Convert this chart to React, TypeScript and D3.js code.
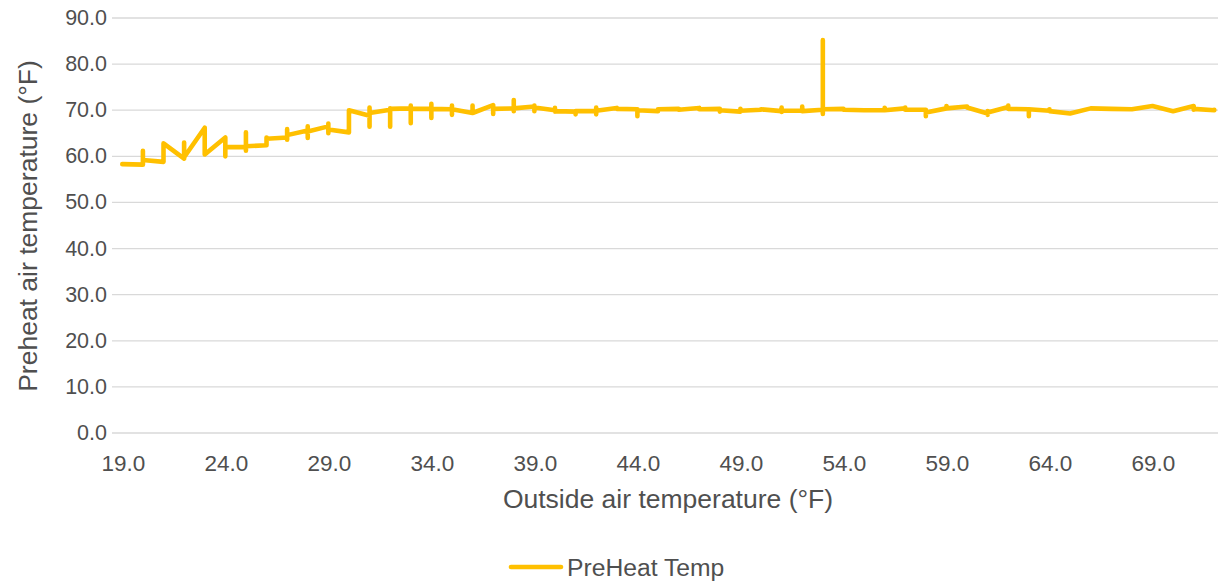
import React from "react";
import * as d3 from "d3";

const outsideTemp: number[] = [
  19, 20, 21, 22, 23, 24, 25, 26, 27, 28, 29, 30, 31, 32, 33, 34, 35, 36, 37, 38,
  39, 40, 41, 42, 43, 44, 45, 46, 47, 48, 49, 50, 51, 52, 53, 54, 55, 56, 57, 58,
  59, 60, 61, 62, 63, 64, 65, 66, 67, 68, 69, 70, 71, 72,
];

// PreHeat readings recorded at each outside temperature, in logged order
const preheatReadings: number[][] = [
  [58.3],
  [58.2, 61.2, 59.2],
  [58.8, 62.8],
  [59.5, 63.0, 59.8],
  [66.2, 60.4],
  [64.1, 60.0, 62.0],
  [62.0, 65.2, 61.2, 62.2],
  [62.4, 64.1, 62.5, 63.8],
  [64.1, 65.9, 63.6, 64.6],
  [65.6, 66.5, 64.0, 65.4],
  [66.5, 67.1, 65.0, 65.8],
  [65.2, 70.0],
  [68.8, 70.6, 66.4, 69.4],
  [70.1, 70.4, 66.4, 70.3],
  [70.4, 71.0, 67.2, 70.3],
  [70.3, 71.4, 68.3, 70.3],
  [70.2, 71.0, 69.0, 70.2],
  [69.4, 71.0, 69.4],
  [71.1, 69.2, 70.3],
  [70.4, 72.2, 69.8, 70.4],
  [70.8, 71.0, 69.8, 70.6],
  [70.0, 70.5, 69.7, 69.8],
  [69.7, 69.1, 69.8],
  [69.8, 70.6, 69.1, 69.9],
  [70.5, 70.3],
  [70.2, 68.7, 70.0],
  [69.8, 70.2],
  [70.3, 70.1],
  [70.5, 70.2],
  [70.3, 69.7, 70.0],
  [69.7, 70.3, 69.9],
  [70.1, 70.2],
  [69.8, 70.6, 69.6, 69.9],
  [69.9, 70.8, 69.8],
  [70.1, 85.2, 69.2, 70.2],
  [70.3, 70.1],
  [70.0],
  [70.0, 70.5, 70.0],
  [70.4, 70.6, 70.1],
  [70.1, 68.7, 69.5],
  [70.4, 70.9, 70.4],
  [70.8, 70.6],
  [69.3, 69.0, 69.8, 69.5],
  [70.7, 71.0, 70.3],
  [70.2, 68.7, 70.2],
  [69.9, 70.2, 69.8],
  [69.3],
  [70.4],
  [70.3],
  [70.2],
  [70.9],
  [69.8],
  [70.9, 70.1, 70.3],
  [70.0, 70.1],
];

const xTicks: number[] = [19, 24, 29, 34, 39, 44, 49, 54, 59, 64, 69];
const yTicks: number[] = [0, 10, 20, 30, 40, 50, 60, 70, 80, 90];

const seriesName = "PreHeat Temp";
const xTitle = "Outside air temperature (°F)";
const yTitle = "Preheat air temperature (°F)";

const W = 1218;
const H = 581;
const LINE_COLOR = "#FFC000";
const TEXT_COLOR = "#4F4F4F";
const GRID_COLOR = "#D9D9D9";
const FONT = "'Liberation Sans', Arial, sans-serif";

export default function App() {
  const x = d3.scaleLinear().domain([18.5, 72.5]).range([112, 1224.6]);
  const y = d3.scaleLinear().domain([0, 90]).range([433, 18]);

  const points: [number, number][] = [];
  outsideTemp.forEach((t, i) => {
    preheatReadings[i].forEach((v) => points.push([t, v]));
  });

  const line = d3
    .line<[number, number]>()
    .x((d) => x(d[0]))
    .y((d) => y(d[1]));

  const [x0, x1] = x.range();

  return (
    <div style={{ position: "absolute", left: 0, top: 0 }}>
      <svg width={W} height={H} style={{ display: "block", background: "#fff" }} fontFamily={FONT}>
        {yTicks.map((t) => (
          <line key={"g" + t} x1={x0} x2={x1} y1={y(t)} y2={y(t)} stroke={GRID_COLOR} strokeWidth={1.3} />
        ))}
        {yTicks.map((t) => (
          <text
            key={"yl" + t}
            x={107}
            y={y(t)}
            textAnchor="end"
            dominantBaseline="central"
            fontSize={21.5}
            fill={TEXT_COLOR}
          >
            {t.toFixed(1)}
          </text>
        ))}
        {xTicks.map((t) => (
          <text
            key={"xl" + t}
            x={x(t) + 1}
            y={463}
            textAnchor="middle"
            dominantBaseline="central"
            fontSize={22.5}
            fill={TEXT_COLOR}
          >
            {t.toFixed(1)}
          </text>
        ))}
        <path
          d={line(points) || ""}
          fill="none"
          stroke={LINE_COLOR}
          strokeWidth={4.6}
          strokeLinejoin="round"
          strokeLinecap="round"
        />
        <text x={668} y={499} textAnchor="middle" dominantBaseline="central" fontSize={26.5} fill={TEXT_COLOR}>
          {xTitle}
        </text>
        <text
          transform={`translate(28,226) rotate(-90)`}
          textAnchor="middle"
          dominantBaseline="central"
          fontSize={26.5}
          fill={TEXT_COLOR}
        >
          {yTitle}
        </text>
        <line x1={511} x2={561} y1={567} y2={567} stroke={LINE_COLOR} strokeWidth={4.6} strokeLinecap="round" />
        <text x={567} y={567} dominantBaseline="central" fontSize={24.7} fill={TEXT_COLOR}>
          {seriesName}
        </text>
      </svg>
    </div>
  );
}
